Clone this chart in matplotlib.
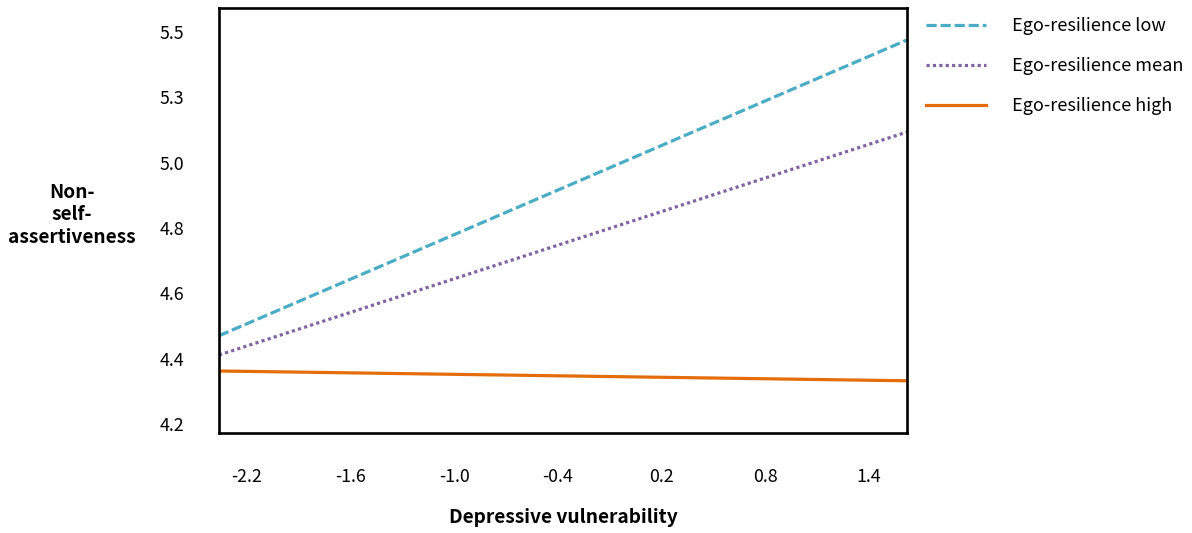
import matplotlib.pyplot as plt

plt.rcParams['font.family'] = ['Noto Sans CJK KR', 'DejaVu Sans']

# data
x_vals = [-2.36, 1.62]
low_vals = [4.47, 5.376]
mean_vals = [4.411, 5.094]
high_vals = [4.362, 4.332]
series_labels = ['Ego-resilience low', 'Ego-resilience mean', 'Ego-resilience high']

x_ticks = [-2.2, -1.6, -1.0, -0.4, 0.2, 0.8, 1.4]
y_ticks = [4.2, 4.4, 4.6, 4.8, 5.0, 5.2, 5.4]
y_tick_labels = ['4.2', '4.4', '4.6', '4.8', '5.0', '5.3', '5.5']

fig = plt.figure(figsize=(11.92, 5.33), dpi=100)
ax = fig.add_axes([0.1837, 0.1876, 0.5772, 0.7974])

ax.plot(x_vals, low_vals, color='#4bacc6', lw=2.3, dashes=(3.2, 1.2), label=series_labels[0])
ax.plot(x_vals, mean_vals, color='#8064a2', lw=2.3, dashes=(1, 1), label=series_labels[1])
ax.plot(x_vals, high_vals, color='#e46c0a', lw=2.3, label=series_labels[2])

ax.set_xlim(-2.36, 1.62)
ax.set_ylim(4.172, 5.474)
ax.set_xticks(x_ticks)
ax.set_xticklabels([f'{v:.1f}' for v in x_ticks])
ax.set_yticks(y_ticks)
ax.set_yticklabels(y_tick_labels)
ax.tick_params(axis='x', length=0, pad=25, labelsize=12.8)
ax.tick_params(axis='y', length=0, pad=25, labelsize=12.8)
for sp in ax.spines.values():
    sp.set_linewidth(1.9)
    sp.set_color('black')

ax.set_xlabel('Depressive vulnerability', fontsize=13.8, fontweight='bold', labelpad=16)
fig.text(72 / 1192, 1 - 215 / 533, 'Non-\nself-\nassertiveness', fontsize=13.7, fontweight='bold',
         ha='center', va='center', multialignment='center', linespacing=1.25)

ax.legend(loc='upper left', bbox_to_anchor=(926 / 1192, 1 - 17 / 533), bbox_transform=fig.transFigure,
          frameon=False, fontsize=13, handlelength=3.3, handletextpad=1.45, labelspacing=1.22,
          borderpad=0, borderaxespad=0)

fig.savefig('out.png', dpi=100, facecolor='white')
